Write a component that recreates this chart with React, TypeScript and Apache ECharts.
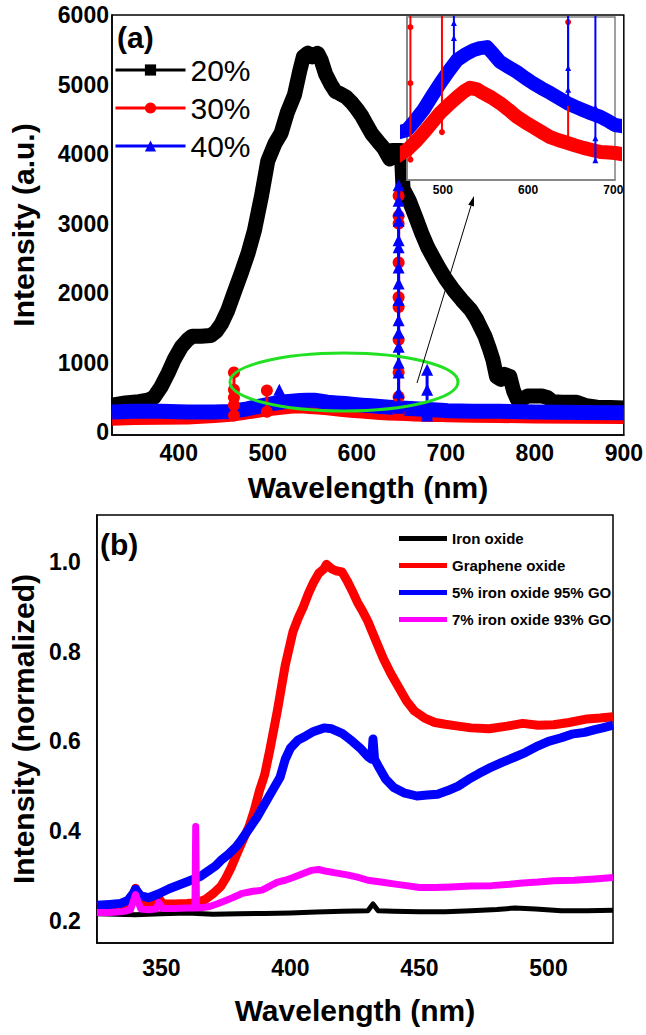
import React, { useEffect, useRef } from "react";
import * as echarts from "echarts";

const FONT = "'Liberation Sans', Arial, sans-serif";

// ---------- Panel (a) ----------
const pctLabels = ["20%", "30%", "40%"];
const xTicksA = [400, 500, 600, 700, 800, 900];
const yTicksA = [0, 1000, 2000, 3000, 4000, 5000, 6000];
const xTicksInset = [500, 600, 700];

const black20 = [
  [325, 390], [340, 420], [355, 440], [365, 460], [372, 500], [380, 650], [388, 850], [395, 1050],
  [403, 1230], [410, 1330], [415, 1380], [425, 1380], [436, 1390], [442, 1450], [448, 1560],
  [455, 1750], [462, 2000], [470, 2280], [478, 2580], [485, 2900], [493, 3400], [500, 3900],
  [508, 4150], [515, 4300], [522, 4600], [530, 4850], [536, 5200], [540, 5400], [545, 5450],
  [550, 5400], [556, 5450], [560, 5350], [565, 5150], [571, 5000], [576, 4900], [581, 4870],
  [588, 4820], [595, 4730], [600, 4650], [606, 4540], [612, 4400], [617, 4290], [624, 4180],
  [630, 4090], [637, 3930], [640, 4050], [650, 4050], [652, 3500], [659, 3330], [666, 3100],
  [673, 2860], [680, 2650], [692, 2370], [700, 2200], [709, 2040], [718, 1900], [728, 1760],
  [734, 1640], [739, 1510], [744, 1380], [749, 1200], [753, 1040], [757, 800], [762, 760],
  [766, 830], [772, 800], [776, 600], [780, 480], [785, 470], [792, 520], [800, 520], [808, 520],
  [814, 500], [820, 440], [830, 430], [847, 430], [858, 380], [870, 360], [885, 355], [900, 350],
];

const red30 = [
  [325, 200], [350, 210], [380, 215], [410, 220], [440, 240], [458, 259], [468, 275], [477, 292],
  [487, 312], [497, 332], [507, 348], [517, 363], [525, 374], [532, 381], [540, 378], [547, 371],
  [557, 362], [567, 351], [577, 338], [587, 324], [597, 313], [606, 304], [616, 294], [626, 284],
  [636, 278], [646, 273], [655, 268], [665, 263], [675, 259], [685, 255], [695, 254], [702, 253],
  [730, 245], [760, 240], [800, 235], [850, 230], [900, 225],
];

const blue40 = [
  [325, 290], [350, 300], [380, 300], [410, 290], [440, 290], [458, 298], [468, 318], [477, 337],
  [487, 364], [497, 390], [507, 414], [517, 436], [527, 447], [536, 455], [544, 459], [552, 461],
  [560, 446], [567, 432], [577, 422], [587, 412], [597, 400], [606, 390], [616, 380], [626, 371],
  [636, 361], [646, 351], [655, 344], [665, 337], [675, 330], [685, 324], [695, 315], [702, 308],
  [730, 300], [760, 300], [800, 290], [850, 285], [900, 280],
];

const red30Spikes = [
  [[462, 240], [462, 390], [462, 500], [462, 610], [462, 860]],
  [[499, 294], [499, 600]],
  [[647, 273], [647, 510], [647, 860], [647, 1330], [647, 1800], [647, 1940], [647, 2440], [647, 3000], [647, 3110], [647, 3400]],
];

const blue40Spikes = [
  [[513, 436], [513, 479], [513, 508], [513, 610]],
  [[647, 351], [647, 377], [647, 420], [647, 570], [647, 860], [647, 1000], [647, 1230], [647, 1430],
   [647, 1610], [647, 1900], [647, 2140], [647, 2370], [647, 2660], [647, 2760], [647, 3040],
   [647, 3190], [647, 3330], [647, 3550]],
  [[679, 239], [679, 282], [679, 343], [679, 610], [679, 900]],
];

// ---------- Panel (b) ----------
const sampleLabels = ["Iron oxide", "Graphene oxide", "5% iron oxide 95% GO", "7% iron oxide 93% GO"];
const xTicksB = [350, 400, 450, 500];
const yTicksB = [0.2, 0.4, 0.6, 0.8, 1.0];

const ironOxide = [
  [325, 0.215], [340, 0.213], [350, 0.215], [360, 0.217], [370, 0.214], [380, 0.215], [390, 0.216],
  [400, 0.217], [410, 0.219], [420, 0.221], [430, 0.222], [432, 0.237], [434, 0.222], [440, 0.221],
  [450, 0.22], [460, 0.22], [470, 0.222], [480, 0.225], [487, 0.228], [495, 0.226], [505, 0.222],
  [515, 0.222], [525, 0.223],
];

const grapheneOxide = [
  [325, 0.232], [330, 0.233], [335, 0.234], [338, 0.236], [340, 0.272], [342, 0.238], [345, 0.236],
  [348, 0.236], [349, 0.25], [350.5, 0.237], [355, 0.237], [360, 0.238], [364, 0.24], [367, 0.247],
  [370, 0.26], [373, 0.276], [375, 0.295], [377, 0.318], [379, 0.345], [381, 0.372], [384, 0.41],
  [386, 0.446], [388, 0.49], [390, 0.525], [392, 0.58], [395, 0.67], [398, 0.77], [401, 0.845],
  [403, 0.875], [405, 0.9], [407, 0.93], [409, 0.955], [411, 0.975], [413, 0.985], [414, 0.995],
  [416, 0.985], [418, 0.98], [420, 0.978], [422, 0.958], [424, 0.935], [426, 0.91], [428, 0.89],
  [430, 0.868], [433, 0.826], [436, 0.785], [439, 0.75], [442, 0.72], [445, 0.69], [448, 0.668],
  [452, 0.652], [456, 0.642], [460, 0.638], [465, 0.634], [470, 0.63], [477, 0.628], [484, 0.634],
  [490, 0.64], [496, 0.636], [502, 0.637], [508, 0.642], [515, 0.65], [520, 0.652], [525, 0.655],
];

const fivePct = [
  [325, 0.234], [330, 0.236], [334, 0.238], [337, 0.245], [339, 0.26], [340, 0.27], [342, 0.255],
  [345, 0.251], [349, 0.26], [353, 0.271], [357, 0.28], [361, 0.289], [365, 0.298], [368, 0.31],
  [371, 0.322], [373, 0.334], [376, 0.348], [379, 0.365], [381, 0.38], [384, 0.405], [387, 0.43],
  [390, 0.46], [393, 0.49], [396, 0.52], [398, 0.56], [400, 0.585], [403, 0.603], [406, 0.612],
  [409, 0.622], [413, 0.63], [416, 0.628], [420, 0.618], [424, 0.6], [427, 0.585], [430, 0.566],
  [431.5, 0.56], [432, 0.605], [432.6, 0.56], [434, 0.545], [437, 0.515], [440, 0.497], [444, 0.485],
  [449, 0.478], [453, 0.48], [457, 0.482], [461, 0.49], [465, 0.5], [469, 0.515], [473, 0.528],
  [477, 0.54], [482, 0.553], [487, 0.565], [491, 0.575], [496, 0.59], [500, 0.6], [505, 0.608],
  [509, 0.616], [514, 0.62], [518, 0.626], [521, 0.63], [525, 0.636],
];

const sevenPct = [
  [325, 0.218], [330, 0.218], [335, 0.22], [338, 0.224], [340, 0.258], [342, 0.226], [345, 0.224],
  [348, 0.226], [349, 0.24], [350.5, 0.227], [355, 0.227], [360, 0.228], [363, 0.228], [363.3, 0.41],
  [363.6, 0.228], [366, 0.229], [369, 0.232], [372, 0.238], [375, 0.245], [378, 0.252], [381, 0.26],
  [385, 0.265], [389, 0.268], [392, 0.277], [395, 0.286], [398, 0.29], [401, 0.296], [405, 0.305],
  [408, 0.312], [411, 0.314], [414, 0.31], [418, 0.306], [422, 0.302], [426, 0.297], [430, 0.29],
  [435, 0.286], [440, 0.282], [445, 0.278], [450, 0.274], [456, 0.274], [462, 0.275], [470, 0.277],
  [478, 0.278], [485, 0.281], [490, 0.284], [496, 0.286], [502, 0.289], [510, 0.29], [518, 0.293],
  [525, 0.296],
];

const BLACK = "#000000";
const RED = "#ff0000";
const BLUE = "#0000ff";
const MAGENTA = "#ff00ff";

function valueAxis(extra: any) {
  return {
    type: "value",
    splitLine: { show: false },
    axisTick: { show: false },
    axisLine: { show: true, onZero: false, lineStyle: { color: BLACK, width: 1.5 } },
    ...extra,
  };
}

export default function App() {
  const ref = useRef<HTMLDivElement>(null);

  useEffect(() => {
    if (!ref.current) return;
    const chart = echarts.init(ref.current, undefined, { renderer: "svg" });

    const tickLabel = (size: number, margin: number, values: number[], fmt: (v: number) => string) => ({
      customValues: values,
      fontSize: size,
      fontWeight: "bold",
      fontFamily: FONT,
      color: BLACK,
      margin,
      formatter: fmt,
    });
    const plain = (v: number) => String(v);
    const nameStyle = { fontSize: 30, fontWeight: "bold", fontFamily: FONT, color: BLACK };

    const series: any[] = [];
    // main panel (a) curves
    series.push({
      name: pctLabels[0], type: "line", xAxisIndex: 0, yAxisIndex: 0, data: black20,
      symbol: "rect", showSymbol: false, lineStyle: { color: BLACK, width: 15, join: "round" },
      itemStyle: { color: BLACK }, z: 2,
    });
    series.push({
      name: pctLabels[1], type: "line", xAxisIndex: 0, yAxisIndex: 0, data: red30,
      symbol: "circle", showSymbol: false, lineStyle: { color: RED, width: 15, join: "round" },
      itemStyle: { color: RED }, z: 3,
    });
    series.push({
      name: pctLabels[2], type: "line", xAxisIndex: 0, yAxisIndex: 0, data: blue40,
      symbol: "triangle", showSymbol: false, lineStyle: { color: BLUE, width: 15, join: "round" },
      itemStyle: { color: BLUE }, z: 4,
    });
    red30Spikes.forEach((d, i) => {
      series.push({
        name: "red-spike-" + i, type: "line", xAxisIndex: 0, yAxisIndex: 0, data: d,
        symbol: "circle", symbolSize: 12, showSymbol: true, showAllSymbol: true,
        lineStyle: { color: RED, width: 3 }, itemStyle: { color: RED }, z: 5,
      });
    });
    blue40Spikes.forEach((d, i) => {
      series.push({
        name: "blue-spike-" + i, type: "line", xAxisIndex: 0, yAxisIndex: 0, data: d,
        symbol: "triangle", symbolSize: 12, showSymbol: true, showAllSymbol: true,
        lineStyle: { color: BLUE, width: 3 }, itemStyle: { color: BLUE }, z: 6,
      });
    });
    // inset
    series.push({
      name: "inset-red", type: "line", xAxisIndex: 1, yAxisIndex: 1, data: red30,
      showSymbol: false, lineStyle: { color: RED, width: 14, join: "round" }, z: 7,
    });
    series.push({
      name: "inset-blue", type: "line", xAxisIndex: 1, yAxisIndex: 1, data: blue40,
      showSymbol: false, lineStyle: { color: BLUE, width: 14, join: "round" }, z: 8,
    });
    red30Spikes.forEach((d, i) => {
      series.push({
        name: "inset-red-spike-" + i, type: "line", xAxisIndex: 1, yAxisIndex: 1, data: d,
        symbol: "circle", symbolSize: 6, showSymbol: true, showAllSymbol: true,
        lineStyle: { color: RED, width: 2 }, itemStyle: { color: RED }, z: 9,
      });
    });
    blue40Spikes.forEach((d, i) => {
      series.push({
        name: "inset-blue-spike-" + i, type: "line", xAxisIndex: 1, yAxisIndex: 1, data: d,
        symbol: "triangle", symbolSize: 6, showSymbol: true, showAllSymbol: true,
        lineStyle: { color: BLUE, width: 2 }, itemStyle: { color: BLUE }, z: 10,
      });
    });
    // panel (b)
    const bData = [ironOxide, grapheneOxide, fivePct, sevenPct];
    const bColors = [BLACK, RED, BLUE, MAGENTA];
    const bWidths = [5, 9, 9, 7];
    bData.forEach((d, i) => {
      series.push({
        name: sampleLabels[i], type: "line", xAxisIndex: 2, yAxisIndex: 2, data: d,
        symbol: "none", showSymbol: false,
        lineStyle: { color: bColors[i], width: bWidths[i], join: "round" },
        itemStyle: { color: bColors[i] }, z: 2 + i,
      });
    });

    const ax = 417, ay = 383, tx = 474, ty = 196;
    const len = Math.hypot(tx - ax, ty - ay);
    const ux = (tx - ax) / len, uy = (ty - ay) / len;
    const bx = tx - ux * 10, by = ty - uy * 10;
    const px = -uy, py = ux;

    chart.setOption({
      animation: false,
      backgroundColor: "#ffffff",
      textStyle: { fontFamily: FONT },
      grid: [
        { left: 107, top: 15, width: 518, height: 420, show: true, borderColor: BLACK, borderWidth: 1.5, backgroundColor: "transparent" },
        { left: 407, top: 17, width: 208, height: 163, show: true, borderColor: "#808080", borderWidth: 1.5, backgroundColor: "#ffffff", z: 3 },
        { left: 88, top: 515, width: 525, height: 428, show: true, borderColor: BLACK, borderWidth: 1.5, backgroundColor: "transparent" },
      ],
      xAxis: [
        valueAxis({
          gridIndex: 0, min: 325, max: 900,
          axisLabel: tickLabel(23, 6, xTicksA, plain),
          name: "Wavelength (nm)", nameLocation: "middle", nameGap: 37, nameTextStyle: nameStyle,
        }),
        valueAxis({
          gridIndex: 1, min: 458, max: 702, z: 3,
          axisLine: { show: true, onZero: false, lineStyle: { color: "#808080", width: 1.5 } },
          axisLabel: tickLabel(12, 4, xTicksInset, plain),
        }),
        valueAxis({
          gridIndex: 2, min: 325, max: 525,
          axisLabel: tickLabel(23, 13, xTicksB, plain),
          name: "Wavelength (nm)", nameLocation: "middle", nameGap: 52, nameTextStyle: nameStyle,
        }),
      ],
      yAxis: [
        valueAxis({
          gridIndex: 0, min: -40, max: 6000,
          axisLabel: tickLabel(23, 3, yTicksA, plain),
          name: "Intensity (a.u.)", nameLocation: "middle", nameGap: 74, nameTextStyle: nameStyle,
        }),
        valueAxis({
          gridIndex: 1, min: 200, max: 520, z: 3,
          axisLine: { show: true, onZero: false, lineStyle: { color: "#808080", width: 1.5 } },
          axisLabel: { show: false },
        }),
        valueAxis({
          gridIndex: 2, min: 0.15, max: 1.105,
          axisLabel: tickLabel(23, 16, yTicksB, (v: number) => v.toFixed(1)),
          name: "Intensity (normalized)", nameLocation: "middle", nameGap: 58, nameTextStyle: nameStyle,
        }),
      ],
      legend: [
        {
          data: pctLabels, orient: "vertical", left: 114, top: 55, padding: 0,
          itemWidth: 70, itemHeight: 14, itemGap: 8, selectedMode: false,
          lineStyle: { width: 3 },
          textStyle: { fontSize: 30, color: BLACK, fontFamily: FONT },
        },
        {
          data: sampleLabels, orient: "vertical", left: 399, top: 531, icon: "rect", padding: 0,
          itemWidth: 48, itemHeight: 5, itemGap: 12, selectedMode: false,
          textStyle: { fontSize: 15, fontWeight: "bold", color: BLACK, fontFamily: FONT },
        },
      ],
      graphic: [
        { type: "text", left: 117, top: 22, style: { text: "(a)", font: `bold 30px ${FONT}`, fill: BLACK } },
        { type: "text", left: 100, top: 529, style: { text: "(b)", font: `bold 30px ${FONT}`, fill: BLACK } },
        {
          type: "ellipse", shape: { cx: 344, cy: 382, rx: 114, ry: 29 },
          style: { fill: "none", stroke: "#22e022", lineWidth: 3 }, z: 20,
        },
        {
          type: "line", shape: { x1: ax, y1: ay, x2: bx, y2: by },
          style: { stroke: BLACK, lineWidth: 1 }, z: 20,
        },
        {
          type: "polygon",
          shape: { points: [[tx, ty], [bx + px * 3, by + py * 3], [bx - px * 3, by - py * 3]] },
          style: { fill: BLACK }, z: 20,
        },
      ],
      series,
    });

    return () => chart.dispose();
  }, []);

  return (
    <div
      ref={ref}
      style={{ position: "absolute", left: 0, top: 0, width: 646, height: 1035 }}
    />
  );
}
